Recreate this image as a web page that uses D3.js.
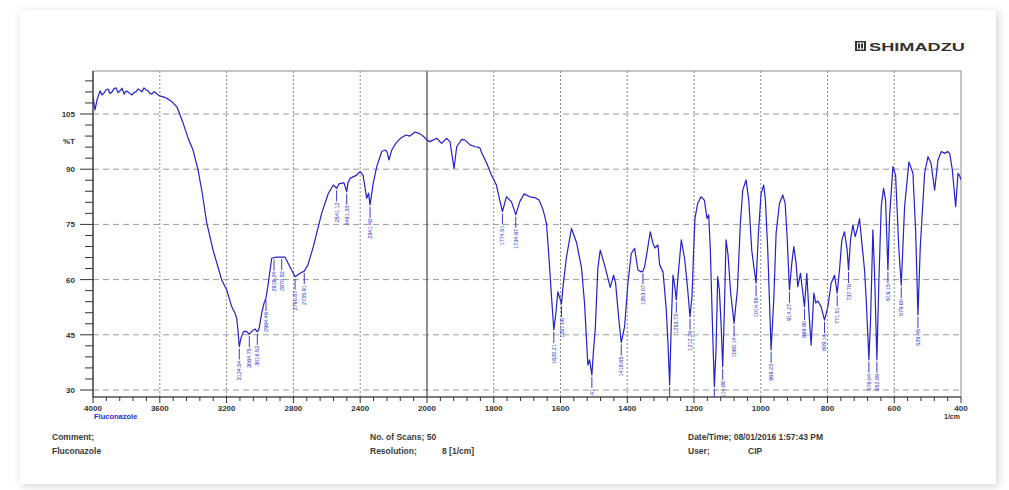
<!DOCTYPE html>
<html><head><meta charset="utf-8">
<script src="https://cdn.jsdelivr.net/npm/d3@7"></script>
<style>
html,body{margin:0;padding:0;background:#fff;}
svg{display:block;font-family:"Liberation Sans",Arial,sans-serif;}
</style></head>
<body><svg id="c" width="1009" height="490"></svg>
<script>
// ---- data (wavenumber in 1/cm, %T) ----
const wavenumbers = [4000,3988,3976,3958,3946,3934,3922,3910,3898,3886,3874,3862,3850,3838,3826,3814,3802,3790,3778,3766,3754,3743,3731,3719,3707,3695,3683,3671,3659,3647,3635,3623,3605,3575,3551,3527,3497,3461,3431,3401,3371,3347,3319,3281,3229,3199,3169,3150,3140,3132,3124,3114,3100,3084,3064,3048,3030,3016,3006,2990,2976,2964,2952,2930,2904,2870,2850,2820,2790,2760,2735,2713,2681,2631,2591,2561,2541,2527,2511,2497,2481,2473,2461,2421,2401,2383,2361,2350,2341,2322,2301,2271,2251,2239,2228,2211,2186,2156,2126,2102,2072,2042,2018,2000,1991,1971,1956,1941,1931,1919,1911,1896,1886,1871,1856,1847,1841,1836,1821,1807,1792,1782,1774,1762,1747,1734,1722,1709,1692,1677,1664,1652,1642,1634,1627,1620,1614,1608,1602,1597,1592,1582,1567,1552,1537,1528,1518,1513,1506,1501,1496,1488,1481,1468,1458,1451,1441,1435,1425,1418,1408,1398,1388,1378,1368,1358,1353,1348,1342,1331,1323,1317,1308,1303,1293,1288,1283,1278,1273,1268,1263,1258,1253,1248,1238,1228,1219,1212,1206,1201,1197,1189,1179,1169,1161,1156,1151,1144,1139,1134,1129,1124,1119,1114,1109,1104,1098,1090,1080,1070,1061,1054,1044,1036,1027,1021,1014,1007,999,991,986,979,974,969,961,954,944,934,927,921,914,907,901,894,889,881,875,869,862,856,849,841,835,829,819,809,799,789,779,771,764,757,749,741,737,731,724,717,710,704,697,689,684,679,676,671,664,659,652,646,639,632,626,619,614,604,596,586,579,569,556,544,536,529,522,509,499,490,479,469,459,449,440,434,426,416,409,404,400];
const transmittance = [109.7,106.1,108.8,111.3,110.2,110.7,111.6,111.8,110.6,111.0,111.9,112.1,110.8,111.3,112.0,110.4,111.2,111.0,110.5,110.2,110.9,111.0,111.8,111.5,111.0,112.1,111.6,111.3,110.6,110.4,111.1,110.7,110.0,109.6,109.1,108.3,106.9,102.6,98.5,95.2,89.8,83.8,75.4,68.0,59.9,57.2,52.6,50.9,49.6,46.3,41.8,44.1,45.8,46.0,45.2,46.0,46.6,45.8,46.6,50.8,53.6,55.0,58.5,65.8,66.1,66.1,66.1,63.4,60.8,61.7,62.3,64.0,68.9,78.0,83.4,85.7,84.8,86.0,86.2,86.3,83.9,86.3,87.5,88.4,89.3,88.4,82.1,83.5,80.3,86.2,90.7,94.8,95.2,94.7,92.5,95.2,97.1,98.5,99.3,99.0,100.1,99.6,98.8,97.9,97.5,98.4,97.0,98.4,97.4,90.2,96.1,98.1,97.9,96.6,96.1,96.0,95.7,94.4,91.6,88.4,85.7,81.6,78.5,82.5,81.2,77.6,81.2,83.3,82.5,82.3,81.6,78.9,75.3,65.3,55.4,46.3,50.8,56.7,55.0,53.4,58.5,66.2,73.9,70.1,63.2,53.6,36.8,38.2,34.1,40.9,46.3,63.2,68.0,64.0,60.4,57.9,61.2,59.1,49.0,42.9,47.2,59.0,67.1,68.5,62.6,62.1,62.3,63.5,66.7,73.0,69.9,68.6,69.4,64.0,62.1,57.2,51.7,42.7,31.4,48.1,61.2,58.5,54.5,60.8,70.8,65.6,57.4,49.9,55.4,68.0,76.7,80.7,82.5,81.6,76.6,77.6,68.0,45.4,30.9,40.9,60.8,57.2,48.1,36.3,51.7,70.8,66.7,56.3,48.1,57.2,75.3,84.3,87.1,81.6,68.0,63.7,59.0,72.6,83.4,85.7,81.6,68.0,54.5,40.9,54.5,72.6,80.7,83.0,80.8,71.7,57.2,64.4,69.0,64.4,58.1,61.7,57.2,52.6,61.7,51.7,42.2,56.3,53.6,54.2,52.6,49.0,52.6,59.0,61.2,56.3,62.6,70.8,73.0,68.0,62.6,70.8,74.8,71.7,74.0,76.6,69.9,62.6,54.5,44.5,38.2,49.0,73.5,61.7,38.2,59.9,79.8,84.8,81.6,62.6,77.1,90.7,88.4,68.0,58.5,79.8,92.0,88.9,73.5,50.4,68.9,88.9,93.4,91.7,84.3,92.5,94.8,94.3,94.8,94.3,89.8,79.8,88.9,88.2,87.1];

// picked peaks
const peakWavenumbers = [3124,3064,3016,2964,2916,2870,2790,2735,2541,2481,2341,1774,1734,1620,1597,1506,1418,1353,1273,1253,1212,1139,1114,1080,1014,969,914,869,809,771,737,676,652,619,579,529];
const peakLabels = ["3124.54","3064.75","3016.53","2964.46","2916.24","2870.92","2790.87","2735.91","2541.12","2481.33","2341.48","1774.51","1734.97","1620.21","1597.06","1506.41","1418.65","1353.07","1273.03","1253.73","1212.26","1139.93","1114.86","1080.14","1014.56","969.23","914.27","869.90","809.14","771.51","737.76","676.04","652.89","619.15","579.60","529.45"];

const xMajorTicks = [4000,3600,3200,2800,2400,2000,1800,1600,1400,1200,1000,800,600,400];
const yMajorTicks = [30,45,60,75,90,105];

const svg = d3.select("#c");
const L = 93, R = 961, T0 = 71, B = 397;

// page with faint shadow
const defs = svg.append("defs");
const f = defs.append("filter").attr("id","sh").attr("x","-5%").attr("y","-5%").attr("width","110%").attr("height","110%");
f.append("feDropShadow").attr("dx",2).attr("dy",2).attr("stdDeviation",4).attr("flood-color","#000").attr("flood-opacity",0.18);
svg.append("rect").attr("x",20).attr("y",10).attr("width",976).attr("height",474).attr("fill","#fff").attr("filter","url(#sh)");
defs.append("clipPath").attr("id","plot").append("rect").attr("x",L).attr("y",T0).attr("width",R-L).attr("height",B-T0);

const x = d3.scaleLinear().domain([4000,2000,400]).range([L,427,R]);
const y = d3.scaleLinear().domain([30,105]).range([390,114]);

// grid
const g = svg.append("g");
g.selectAll("line.hg").data(yMajorTicks).join("line")
  .attr("x1",L).attr("x2",R).attr("y1",d=>y(d)).attr("y2",d=>y(d))
  .attr("stroke","#9a9a9a").attr("stroke-width",1).attr("stroke-dasharray","6,4");
g.selectAll("line.vg").data(xMajorTicks.filter(d=>d!==4000&&d!==400&&d!==2000)).join("line")
  .attr("x1",d=>x(d)).attr("x2",d=>x(d)).attr("y1",T0).attr("y2",B)
  .attr("stroke","#8a8a8a").attr("stroke-width",1).attr("stroke-dasharray","2,2");
g.append("line").attr("x1",x(2000)).attr("x2",x(2000)).attr("y1",T0).attr("y2",B)
  .attr("stroke","#555").attr("stroke-width",1.3);

// frame
svg.append("rect").attr("x",L).attr("y",T0).attr("width",R-L).attr("height",B-T0)
  .attr("fill","none").attr("stroke","#8c8c8c").attr("stroke-width",1);
svg.append("line").attr("x1",L).attr("x2",L).attr("y1",T0).attr("y2",B).attr("stroke","#333").attr("stroke-width",1.2);
svg.append("line").attr("x1",L).attr("x2",R).attr("y1",B).attr("y2",B).attr("stroke","#333").attr("stroke-width",1.2);

// y ticks
const yMinor = d3.range(30,115,3);
svg.append("g").selectAll("line").data(yMinor).join("line")
  .attr("x1",d=>yMajorTicks.includes(d)?80:85).attr("x2",L).attr("y1",d=>y(d)).attr("y2",d=>y(d))
  .attr("stroke","#333").attr("stroke-width",1);
svg.append("g").selectAll("text").data(yMajorTicks).join("text")
  .attr("x",75).attr("y",d=>y(d)+3).attr("text-anchor","end")
  .attr("font-size",8).attr("font-weight","bold").attr("fill","#333").text(d=>d);
svg.append("text").attr("x",75).attr("y",144).attr("text-anchor","end")
  .attr("font-size",8).attr("font-weight","bold").attr("fill","#333").text("%T");

// x ticks
const xMinor = d3.range(4000,1999,-80).concat(d3.range(1960,399,-40));
svg.append("g").selectAll("line").data(xMinor).join("line")
  .attr("x1",d=>x(d)).attr("x2",d=>x(d)).attr("y1",B).attr("y2",d=>xMajorTicks.includes(d)?403:401)
  .attr("stroke","#333").attr("stroke-width",1);
svg.append("g").selectAll("text").data(xMajorTicks).join("text")
  .attr("x",d=>x(d)).attr("y",411).attr("text-anchor","middle")
  .attr("font-size",8).attr("font-weight","bold").attr("fill","#333").text(d=>d);
svg.append("text").attr("x",952).attr("y",419).attr("text-anchor","middle")
  .attr("font-size",7).attr("font-weight","bold").attr("fill","#333").text("1/cm");
svg.append("text").attr("x",94).attr("y",419)
  .attr("font-size",7.5).attr("font-weight","bold").attr("fill","#2b2bd0").text("Fluconazole");

// spectrum
const pts = wavenumbers.map((w,i)=>[w,transmittance[i]]);
svg.append("path").datum(pts).attr("clip-path","url(#plot)")
  .attr("d",d3.line().x(d=>x(d[0])).y(d=>y(d[1])))
  .attr("fill","none").attr("stroke","#2222c8").attr("stroke-width",1.2).attr("stroke-linejoin","round");

// peak labels
function tAt(w){ const i = wavenumbers.indexOf(w); if(i>=0) return transmittance[i];
  for(let k=0;k<wavenumbers.length-1;k++){ if(wavenumbers[k]>=w && wavenumbers[k+1]<=w){
    const t=(wavenumbers[k]-w)/(wavenumbers[k]-wavenumbers[k+1]); return transmittance[k]+t*(transmittance[k+1]-transmittance[k]);}} return 50;}
const pk = svg.append("g").attr("clip-path","url(#plot)");
peakWavenumbers.forEach((w,i)=>{
  const px = x(w), py = y(tAt(w));
  pk.append("line").attr("x1",px).attr("x2",px).attr("y1",py+2).attr("y2",py+13)
    .attr("stroke","#2222c8").attr("stroke-width",0.9);
  pk.append("text").attr("transform",`translate(${px+2},${py+14}) rotate(-90)`)
    .attr("text-anchor","end").attr("font-size",5.5).attr("fill","#2a2ad0").text(peakLabels[i]);
});

// logo
const lg = svg.append("g");
lg.append("rect").attr("x",855).attr("y",41).attr("width",11).attr("height",10).attr("fill","#333");
lg.append("rect").attr("x",857.5).attr("y",43).attr("width",6).attr("height",6).attr("fill","none").attr("stroke","#fff").attr("stroke-width",1);
lg.append("line").attr("x1",860.5).attr("x2",860.5).attr("y1",42.5).attr("y2",49.5).attr("stroke","#fff").attr("stroke-width",1);
lg.append("text").attr("x",869).attr("y",50.5).attr("font-size",10).attr("font-weight","bold").attr("fill","#333")
  .attr("textLength",96).attr("lengthAdjust","spacingAndGlyphs").text("SHIMADZU");

// footer
const ft = svg.append("g").attr("font-size",8.5).attr("font-weight","bold").attr("fill","#3a3a3a");
ft.append("text").attr("x",52).attr("y",440).text("Comment;");
ft.append("text").attr("x",52).attr("y",454).text("Fluconazole");
ft.append("text").attr("x",370).attr("y",440).text("No. of Scans; 50");
ft.append("text").attr("x",370).attr("y",454).text("Resolution;");
ft.append("text").attr("x",442).attr("y",454).text("8 [1/cm]");
ft.append("text").attr("x",688).attr("y",440).text("Date/Time; 08/01/2016 1:57:43 PM");
ft.append("text").attr("x",688).attr("y",454).text("User;");
ft.append("text").attr("x",748).attr("y",454).text("CIP");
</script></body></html>
